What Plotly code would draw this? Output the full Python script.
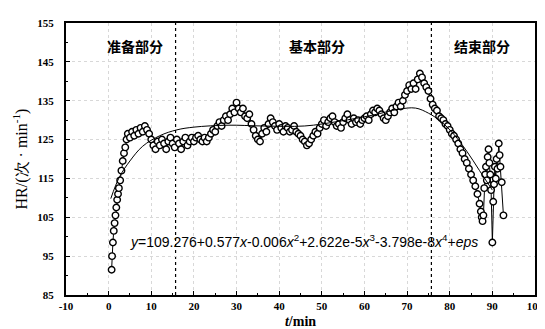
import plotly.graph_objects as go

# ---- data ----
t_min = [0.7, 0.8, 1.0, 1.2, 1.4, 1.6, 1.8, 2.0, 2.2, 2.4, 2.7, 3.0, 3.3, 3.6, 3.9, 4.2, 4.5,
         5.0, 5.5, 6.0, 6.5, 7.0, 7.5, 8.0, 8.5, 9.0, 9.5, 10.0, 10.5, 11.0, 11.5, 12.0, 12.5,
         13.0, 13.5, 14.0, 14.5, 15.0, 15.5, 16.0, 16.5, 17.0, 17.5, 18.0, 18.5, 19.0, 19.5,
         20.0, 20.5, 21.0, 21.5, 22.0, 22.5, 23.0, 23.5, 24.0, 24.5, 25.0, 25.5, 26.0, 26.5,
         27.0, 27.5, 28.0, 28.5, 29.0, 29.5, 30.0, 30.5, 31.0, 31.5, 32.0, 32.5, 33.0, 33.5,
         34.0, 34.5, 35.0, 35.5, 36.0, 36.5, 37.0, 37.5, 38.0, 38.5, 39.0, 39.5, 40.0, 40.5,
         41.0, 41.5, 42.0, 42.5, 43.0, 43.5, 44.0, 44.5, 45.0, 45.5, 46.0, 46.5, 47.0, 47.5,
         48.0, 48.5, 49.0, 49.5, 50.0, 50.5, 51.0, 51.5, 52.0, 52.5, 53.0, 53.5, 54.0, 54.5,
         55.0, 55.5, 56.0, 56.5, 57.0, 57.5, 58.0, 58.5, 59.0, 59.5, 60.0, 60.5, 61.0, 61.5,
         62.0, 62.5, 63.0, 63.5, 64.0, 64.5, 65.0, 65.5, 66.0, 66.5, 67.0, 67.5, 68.0, 68.5,
         69.0, 69.5, 70.0, 70.5, 71.0, 71.5, 72.0, 72.5, 73.0, 73.5, 74.0, 74.5, 75.0, 75.5,
         76.0, 76.5, 77.0, 77.5, 78.0, 78.5, 79.0, 79.5, 80.0, 80.5, 81.0, 81.5, 82.0, 82.5,
         83.0, 83.5, 84.0, 84.5, 85.0, 85.5, 86.0, 86.5, 87.0, 87.3, 87.5, 87.7, 87.9, 88.1,
         88.3, 88.5, 88.7, 88.9, 89.1, 89.3, 89.5, 89.7, 90.0, 90.2, 90.4, 90.6, 90.8, 91.0,
         91.2, 91.5, 91.7, 91.9, 92.2, 92.6]
hr = [91.5, 95.0, 98.5, 101.5, 103.5, 105.5, 107.5, 109.5, 111.0, 112.5, 114.5, 117.0, 119.5,
      121.5, 123.0, 125.0, 126.5,
      125.5, 127.0, 126.0, 127.5, 126.5, 128.0, 127.0, 128.5, 127.5, 126.5, 125.0, 123.5,
      122.5, 124.5, 123.5, 125.0, 124.0, 122.5, 124.5, 125.5, 124.0, 123.0, 125.0, 124.0,
      122.5, 124.5, 125.5, 123.5, 124.5, 125.5, 124.5, 125.5, 126.0, 125.0, 124.5, 125.5,
      124.5, 125.5, 126.5, 127.5, 127.0, 128.5, 129.5, 128.5, 130.0, 131.0, 130.0, 131.5,
      133.0, 132.0, 134.5, 133.0, 132.0, 133.0, 131.0, 130.5, 131.5, 129.0, 127.5, 126.0,
      125.0, 124.5, 126.5, 128.0, 127.0, 129.0, 130.5, 129.5, 128.5, 127.5, 129.0, 128.0,
      127.0, 128.5, 128.0, 127.0, 127.5, 128.5, 127.0, 126.5, 126.0, 125.0, 124.5, 123.5,
      124.0, 125.0, 126.0, 127.0, 126.5, 128.0, 129.0, 130.0, 128.5, 129.5, 130.5, 131.0,
      129.5, 128.5, 129.0, 128.0, 129.5, 130.5, 131.5, 130.0, 129.0, 130.5, 129.5, 130.0,
      129.0, 130.0, 130.5, 131.0, 130.0, 131.5, 132.5, 132.0, 133.0, 132.5, 131.5, 130.5,
      130.0, 131.0, 132.0, 133.0, 132.0, 133.5, 134.5, 133.5, 135.0, 136.5, 137.5, 139.0,
      138.0, 139.5, 138.0, 140.5, 142.0, 141.0, 139.5, 138.5, 137.5, 135.5, 134.0, 133.0,
      132.5, 131.0, 130.5, 130.0, 129.0, 128.5, 127.5, 126.5, 126.0, 125.0, 124.0, 122.5,
      121.5, 120.0, 119.0, 117.5, 116.0, 114.5, 113.0, 111.0, 108.5, 106.5, 105.0, 104.0,
      105.5, 112.5, 116.0, 118.0, 114.5, 120.5, 122.5, 119.0, 116.0, 112.0, 98.5, 109.0,
      113.5, 118.0, 115.0, 120.0, 117.5, 124.0, 121.0, 118.0, 114.0, 105.5]

fit_t = [0.5, 2.5, 5, 8, 12, 16, 20, 28, 36, 46, 54, 62, 68, 72, 75, 78, 81, 84, 87, 90]
fit_hr = [109.8, 115.3, 119.5, 123.3, 126.0, 127.5, 128.2, 128.7, 128.5, 128.5, 129.7,
          131.3, 132.8, 133.1, 131.8, 129.6, 126.3, 122.0, 117.0, 112.0]

phase_bounds = [15.7, 75.7]
phase_labels = ["准备部分", "基本部分", "结束部分"]
equation = ("<i>y</i>=109.276+0.577<i>x</i>-0.006<i>x</i><sup>2</sup>+2.622e-5<i>x</i><sup>3</sup>"
            "-3.798e-8<i>x</i><sup>4</sup>+<i>eps</i>")
x_ticks = [-10, 0, 10, 20, 30, 40, 50, 60, 70, 80, 90, 100]
y_ticks = [85, 95, 105, 115, 125, 135, 145, 155]

fig = go.Figure()
fig.add_trace(go.Scatter(
    x=t_min, y=hr, mode="lines+markers",
    line=dict(color="black", width=1),
    marker=dict(symbol="circle", size=6.5, color="white", line=dict(color="black", width=1.4)),
    showlegend=False, hoverinfo="skip"))
fig.add_trace(go.Scatter(
    x=fit_t, y=fit_hr, mode="lines", line=dict(color="black", width=1, shape="spline"),
    showlegend=False, hoverinfo="skip"))

for b in phase_bounds:
    fig.add_shape(type="line", xref="x", yref="paper", x0=b, x1=b, y0=0, y1=1,
                  line=dict(color="black", width=1.2, dash="dot"), layer="below")

label_pos = [6.2, 48.9, 87.6]
for lab, px in zip(phase_labels, label_pos):
    fig.add_annotation(x=px, y=149, xref="x", yref="y", text=f"<b>{lab}</b>", showarrow=False,
                       font=dict(family="Noto Sans CJK SC", size=14, color="black"))

fig.add_annotation(x=4.6, y=98.9, xref="x", yref="y", text=equation, showarrow=False,
                   xanchor="left", font=dict(family="Liberation Sans", size=14, color="black"))

axis_common = dict(showline=True, linecolor="black", linewidth=2, mirror=True,
                   ticks="inside", ticklen=4, tickcolor="black", tickwidth=1,
                   showgrid=True, gridcolor="#d8d8d8", griddash="dot", gridwidth=1,
                   zeroline=False,
                   tickfont=dict(family="Liberation Serif", size=11, color="black", weight="bold"),
                   minor=dict(ticks="inside", ticklen=2, tickcolor="black", showgrid=False))

fig.update_xaxes(range=[-10, 100], tickvals=x_ticks, ticktext=[str(v) for v in x_ticks],
                 title=dict(text="<i>t</i>/min", standoff=5,
                            font=dict(family="Liberation Serif", size=14, color="black", weight="bold")),
                 **axis_common)
fig.update_yaxes(range=[85, 155], tickvals=y_ticks, ticktext=[str(v) for v in y_ticks],
                 ticklabelstandoff=8,
                 title=dict(text="HR/(次 · min<sup>-1</sup>)", standoff=6,
                            font=dict(family="Liberation Serif", size=16, color="black")),
                 **axis_common)

fig.update_layout(width=545, height=329, margin=dict(l=58, r=10, t=9, b=42),
                  plot_bgcolor="white", paper_bgcolor="white")

fig.write_html("out.html")
